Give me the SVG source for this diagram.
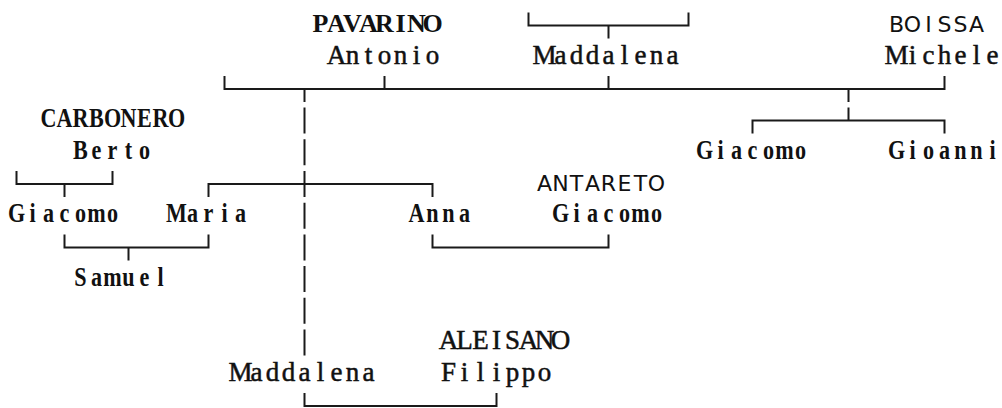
<svg xmlns="http://www.w3.org/2000/svg" width="1002" height="408" viewBox="0 0 1002 408">
<style>
text{fill:#111;text-anchor:middle;font-size:27px;font-family:"Liberation Serif","Times New Roman",serif}
.r{stroke:#111;stroke-width:0.5}
.b{font-weight:bold}
.p{font-weight:bold;font-size:26px}
.s{font-family:"DejaVu Sans","Liberation Sans",sans-serif;font-size:22px}
#connectors path{fill:none;stroke:#1a1a1a;stroke-width:2}
</style>
<rect width="1002" height="408" fill="#fff"/>
<g id="connectors">
<path d="M528.5 12.5V25.5H688.5V12.5M608.5 25.5V38.5"/>
<path d="M224.5 75.9V88.9H944.5V75.9M384.5 75.9V88.9M608.5 75.9V88.9M304.5 88.9V101.9M848.5 88.9V101.9"/>
<path d="M848.5 107.6V120.6M752.5 133.6V120.6H944.5V133.6"/>
<path d="M304.5 107.6V133.6M304.5 139.3V165.3M304.5 171V197M208.5 197V184H432.5V197M304.5 202.7V228.7M304.5 234.4V260.4M304.5 266.1V292.1M304.5 297.8V323.8M304.5 329.5V355.5"/>
<path d="M16.5 171V184H112.5V171M64.5 184V197"/>
<path d="M64.5 234.4V247.4H208.5V234.4M128.5 247.4V260.4"/>
<path d="M432.5 234.4V247.4H608.5V234.4"/>
<path d="M304.5 392.9V405.9H496.5V392.9"/>
</g>
<g id="pavarino-antonio">
<text class="p" x="320.5 336.5 352.5 368.5 384.5 400.5 416.5 432.5" y="32">PAVARINO</text>
<text class="r" x="336.5 352.5 368.5 384.5 400.5 416.5 432.5" y="63.7">Antonio</text>
</g>
<g id="maddalena-top">
<text class="r" x="544.5 560.5 576.5 592.5 608.5 624.5 640.5 656.5 672.5" y="63.7">Maddalena</text>
</g>
<g id="boissa-michele">
<text class="s" x="896.5 912.5 928.5 944.5 960.5 976.5" y="32">BOISSA</text>
<text class="r" x="896.5 912.5 928.5 944.5 960.5 976.5 992.5" y="63.7">Michele</text>
</g>
<g id="carbonero-berto">
<text class="b" transform="scale(0.82 1)" x="59.15 78.66 98.17 117.68 137.2 156.71 176.22 195.73 215.24" y="127.1">CARBONERO</text>
<text class="b" transform="scale(0.82 1)" x="98.17 117.68 137.2 156.71 176.22" y="158.8">Berto</text>
</g>
<g id="giacomo-right">
<text class="b" transform="scale(0.82 1)" x="859.15 878.66 898.17 917.68 937.2 956.71 976.22" y="158.8">Giacomo</text>
</g>
<g id="gioanni">
<text class="b" transform="scale(0.82 1)" x="1093.29 1112.8 1132.32 1151.83 1171.34 1190.85 1210.37" y="158.8">Gioanni</text>
</g>
<g id="giacomo-left">
<text class="b" transform="scale(0.82 1)" x="20.12 39.63 59.15 78.66 98.17 117.68 137.2" y="222.2">Giacomo</text>
</g>
<g id="maria">
<text class="b" transform="scale(0.82 1)" x="215.24 234.76 254.27 273.78 293.29" y="222.2">Maria</text>
</g>
<g id="anna">
<text class="b" transform="scale(0.82 1)" x="507.93 527.44 546.95 566.46" y="222.2">Anna</text>
</g>
<g id="antareto-giacomo">
<text class="s" x="544.5 560.5 576.5 592.5 608.5 624.5 640.5 656.5" y="190.5">ANTARETO</text>
<text class="b" transform="scale(0.82 1)" x="683.54 703.05 722.56 742.07 761.59 781.1 800.61" y="222.2">Giacomo</text>
</g>
<g id="samuel">
<text class="b" transform="scale(0.82 1)" x="98.17 117.68 137.2 156.71 176.22 195.73" y="285.6">Samuel</text>
</g>
<g id="maddalena-bottom">
<text class="r" x="240.5 256.5 272.5 288.5 304.5 320.5 336.5 352.5 368.5" y="380.7">Maddalena</text>
</g>
<g id="aleisano-filippo">
<text class="r" x="448.5 464.5 480.5 496.5 512.5 528.5 544.5 560.5" y="349">ALEISANO</text>
<text class="r" x="448.5 464.5 480.5 496.5 512.5 528.5 544.5" y="380.7">Filippo</text>
</g>
</svg>
